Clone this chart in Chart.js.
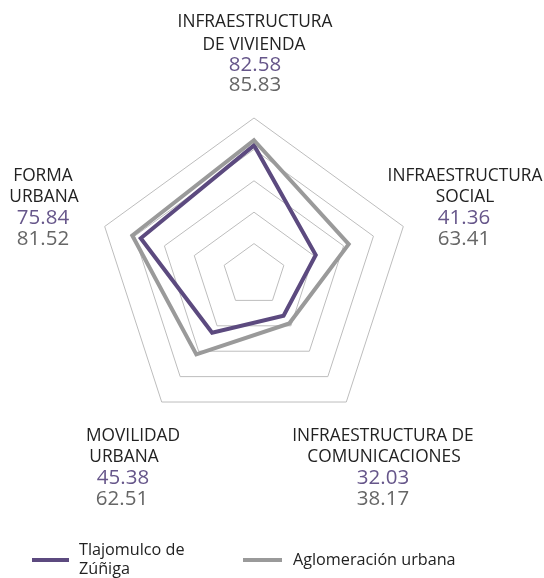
<!DOCTYPE html>
<html>
<head>
<meta charset="utf-8">
<script src="https://cdn.jsdelivr.net/npm/chart.js@4.4.0/dist/chart.umd.min.js"></script>
<style>
  html, body { margin: 0; padding: 0; background: #fff; }
  #wrap { width: 544px; height: 578px; position: relative; }
</style>
</head>
<body>
<div id="wrap"><canvas id="radar" width="544" height="578"></canvas></div>
<script>
// categorias (texto de cada eje)
let categories = [
    ["INFRAESTRUCTURA", "DE VIVIENDA"],
    ["INFRAESTRUCTURA", "SOCIAL"],
    ["INFRAESTRUCTURA DE", "COMUNICACIONES"],
    ["MOVILIDAD", "URBANA"],
    ["FORMA", "URBANA"]
]
let tlajomulco = [82.58, 41.36, 32.03, 45.38, 75.84]
let aglomeracion = [85.83, 63.41, 38.17, 62.51, 81.52]
let series_names = [["Tlajomulco de", "Zúñiga"], ["Aglomeración urbana"]]

let purple = "#5c4a7f"
let gray = "#9a9a9a"
let font = "'Open Sans', 'Noto Sans', sans-serif"

// donde va cada bloque de texto (x centro de cada linea, y de la primera linea)
let label_pos = [
    {x: [255, 254, 255, 255], y: 22, gap: [23, 20, 20]},
    {x: [465, 465, 464, 464], y: 176, gap: [21, 21, 21]},
    {x: [383, 384, 383, 383], y: 436, gap: [21, 21, 21]},
    {x: [133, 124, 123, 122], y: 436, gap: [21, 21, 21]},
    {x: [43, 44, 43, 43], y: 176, gap: [21, 21, 21]}
]

let axisLabels = {
    id: "axisLabels",
    afterDraw(chart) {
        let ctx = chart.ctx
        ctx.save()
        ctx.textAlign = "center"
        ctx.textBaseline = "middle"
        for (let i = 0; i < categories.length; i++) {
            let p = label_pos[i]
            let lines = [
                [categories[i][0], "#222", 400, 17.3],
                [categories[i][1], "#222", 400, 17.3],
                [tlajomulco[i].toFixed(2), "#66568a", 400, 20.5],
                [aglomeracion[i].toFixed(2), "#666", 400, 20.5]
            ]
            let y = p.y
            for (let j = 0; j < lines.length; j++) {
                ctx.font = lines[j][2] + " " + lines[j][3] + "px " + font
                ctx.fillStyle = lines[j][1]
                ctx.fillText(lines[j][0], p.x[j], y)
                if (j < 3) y += p.gap[j]
            }
        }

        // leyenda
        ctx.lineWidth = 4
        ctx.strokeStyle = purple
        ctx.beginPath()
        ctx.moveTo(32, 560)
        ctx.lineTo(69, 560)
        ctx.stroke()
        ctx.strokeStyle = gray
        ctx.beginPath()
        ctx.moveTo(243, 560)
        ctx.lineTo(282, 560)
        ctx.stroke()

        ctx.textAlign = "left"
        ctx.font = "400 16.2px " + font
        ctx.fillStyle = "#222"
        ctx.fillText(series_names[0][0], 79, 550)
        ctx.fillText(series_names[0][1], 79, 569)
        ctx.fillText(series_names[1][0], 293, 560)
        ctx.restore()
    }
}

let chart = new Chart(document.getElementById("radar").getContext("2d"), {
    type: "radar",
    data: {
        labels: categories.map(c => c.join(" ")),
        datasets: [{
            label: series_names[1].join(" "),
            data: aglomeracion,
            borderColor: gray,
            backgroundColor: "rgba(0,0,0,0)",
            borderWidth: 4,
            pointRadius: 0,
            fill: false
        }, {
            label: series_names[0].join(" "),
            data: tlajomulco,
            borderColor: purple,
            backgroundColor: "rgba(0,0,0,0)",
            borderWidth: 4,
            pointRadius: 0,
            fill: false
        }]
    },
    options: {
        responsive: false,
        animation: false,
        devicePixelRatio: 1,
        layout: {
            padding: {left: 97, top: 118, right: 133, bottom: 146}
        },
        plugins: {
            legend: {display: false},
            tooltip: {enabled: false}
        },
        elements: {
            line: {tension: 0, borderJoinStyle: "miter"}
        },
        scales: {
            r: {
                min: 0,
                max: 100,
                ticks: {stepSize: 20, display: false},
                pointLabels: {display: false},
                angleLines: {display: false},
                grid: {color: "#bdbdbd", lineWidth: 1}
            }
        }
    },
    plugins: [axisLabels]
})
</script>
</body>
</html>
